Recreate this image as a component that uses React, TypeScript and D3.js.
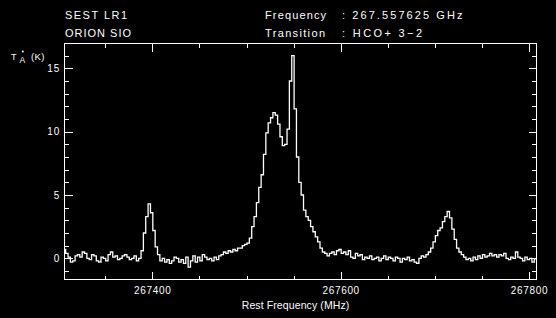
import React from "react";
import * as d3 from "d3";

// ---- Data ----
const CHANNEL_START = 267306.7; // MHz, first channel
const CHANNEL_WIDTH = 2.5; // MHz per channel
const intensity: number[] = [
  0.7, 0.4, 0.1, -0.3, -0.2, 0.2, 0.3, 0.1, 0.5, 0.4,
  0.0, -0.1, 0.3, 0.2, -0.2, -0.3, 0.1, 0.0, -0.2, 0.3,
  0.5, 0.1, 0.2, -0.1, 0.0, 0.2, 0.3, 0.1, -0.1, 0.0,
  0.2, -0.2, 0.0, 0.6, 2.0, 3.3, 4.3, 3.6, 2.2, 0.9,
  0.3, -0.2, 0.0, -0.3, -0.1, -0.4, -0.2, 0.1, 0.0, -0.3,
  -0.1, -0.4, 0.1, -0.7, -0.2, 0.2, -0.3, 0.1, -0.2, 0.3,
  0.1, -0.1, 0.0, -0.2, 0.1, -0.1, 0.2, 0.3, 0.5, 0.4,
  0.6, 0.5, 0.7, 0.6, 0.8, 0.8, 1.0, 1.1, 1.2, 1.6,
  2.5, 3.3, 4.4, 5.6, 6.6, 8.2, 9.9, 10.7, 11.1, 11.5,
  11.3, 10.6, 9.6, 8.9, 9.0, 10.2, 14.0, 16.0, 11.8, 8.0,
  6.0, 5.0, 3.8, 3.3, 3.0, 2.5, 2.1, 1.7, 1.3, 0.8,
  0.5, 0.4, 0.2, 0.4, 0.5, 0.3, 0.6, 0.7, 0.4, 0.5,
  0.3, 0.6, 0.1, 0.0, 0.4, 0.2, 0.3, -0.1, 0.1, 0.0,
  0.2, -0.1, 0.0, 0.1, -0.2, 0.0, 0.2, -0.1, 0.1, 0.0,
  -0.2, 0.1, 0.0, -0.3, 0.0, -0.1, 0.1, -0.2, -0.1, -0.3,
  -0.4, 0.0, 0.2, 0.1, 0.3, 0.5, 0.8, 1.3, 1.8, 2.2,
  2.4, 2.9, 3.3, 3.7, 3.2, 2.3, 1.5, 0.8, 0.5, 0.3,
  0.1, -0.1, 0.0, -0.2, 0.1, -0.1, 0.2, 0.0, 0.3, 0.1,
  0.2, 0.4, 0.2, 0.3, 0.1, 0.3, 0.2, 0.4, 0.0, -0.1,
  0.1, 0.0, 0.5, 0.1, 0.0, -0.2, 0.1, -0.1, 0.0, -0.3,
  -0.1,
];
const X_DOMAIN: [number, number] = [267306.7, 267807.8];
const Y_DOMAIN: [number, number] = [-1.67, 17.0];
const xMajorTicks = [267400, 267600, 267800];
const xMinorTicks = [267350, 267450, 267500, 267550, 267650, 267700, 267750];
const yMajorTicks = [0, 5, 10, 15];
const yMinorTicks = [-1, 1, 2, 3, 4, 6, 7, 8, 9, 11, 12, 13, 14, 16];
const headerLeft = ["SEST LR1", "ORION SIO"];
const headerKeys = ["Frequency", "Transition"];
const headerValues = [": 267.557625 GHz", ": HCO+ 3\u22122"];
const xTitle = "Rest Frequency (MHz)";

const W = 556;
const H = 318;
const L = 64.5, R = 536.5, T = 43.5, B = 279.5;
const FONT = "'Liberation Sans', Arial, sans-serif";
const headerLeftW = [62, 66];
const headerKeysW = [61, 60];
const headerValuesW = [120.5, 80];

export default function App() {
  const x = d3.scaleLinear().domain(X_DOMAIN).range([L, R]);
  const y = d3.scaleLinear().domain(Y_DOMAIN).range([B, T - 0.5]);

  const pts: [number, number][] = intensity.map((v, i) => [
    x(CHANNEL_START + i * CHANNEL_WIDTH),
    y(v),
  ]);
  const line = d3.line<[number, number]>().x((d) => d[0]).y((d) => d[1]).curve(d3.curveStep);
  const path = line(pts) || "";

  const px = (v: number) => Math.round(v) + 0.5;

  const ticks: React.ReactNode[] = [];
  xMajorTicks.forEach((t, i) => {
    const xx = px(x(t));
    ticks.push(<line key={"xb" + i} x1={xx} x2={xx} y1={B} y2={B - 8} />);
    ticks.push(<line key={"xt" + i} x1={xx} x2={xx} y1={T} y2={T + 8} />);
  });
  xMinorTicks.forEach((t, i) => {
    const xx = px(x(t));
    ticks.push(<line key={"xbm" + i} x1={xx} x2={xx} y1={B} y2={B - 4} />);
    ticks.push(<line key={"xtm" + i} x1={xx} x2={xx} y1={T} y2={T + 4} />);
  });
  yMajorTicks.forEach((t, i) => {
    const yy = px(y(t));
    ticks.push(<line key={"yl" + i} x1={L} x2={L + 8} y1={yy} y2={yy} />);
    ticks.push(<line key={"yr" + i} x1={R} x2={R - 8} y1={yy} y2={yy} />);
  });
  yMinorTicks.forEach((t, i) => {
    const yy = px(y(t));
    ticks.push(<line key={"ylm" + i} x1={L} x2={L + 4.5} y1={yy} y2={yy} />);
    ticks.push(<line key={"yrm" + i} x1={R} x2={R - 4.5} y1={yy} y2={yy} />);
  });

  return (
    <div style={{ position: "fixed", left: 0, top: 0, width: W, height: H, background: "#000" }}>
      <svg width={W} height={H} style={{ display: "block", background: "#000" }} fontFamily={FONT}>
        <rect x={0} y={0} width={W} height={H} fill="#000" />
        <defs>
          <clipPath id="plotclip">
            <rect x={L} y={T} width={R - L} height={B - T} />
          </clipPath>
        </defs>
        {/* header */}
        {headerLeft.map((s, i) => (
          <text key={"hl" + i} x={65} y={19.3 + i * 18} fill="#fff" fontSize={11}
            textLength={headerLeftW[i]} lengthAdjust="spacing">
            {s}
          </text>
        ))}
        {headerKeys.map((s, i) => (
          <text key={"hk" + i} x={265} y={19.3 + i * 18} fill="#fff" fontSize={11}
            textLength={headerKeysW[i]} lengthAdjust="spacing">
            {s}
          </text>
        ))}
        {headerValues.map((s, i) => (
          <text key={"hv" + i} x={342} y={19.3 + i * 18} fill="#fff" fontSize={11}
            textLength={headerValuesW[i]} lengthAdjust="spacing">
            {s}
          </text>
        ))}
        {/* spectrum */}
        <path d={path} fill="none" stroke="#fff" strokeWidth={1.3} clipPath="url(#plotclip)" />
        {/* frame & ticks */}
        <g stroke="#fff" strokeWidth={1} shapeRendering="crispEdges">
          <rect x={L} y={T} width={R - L} height={B - T} fill="none" />
          {ticks}
        </g>
        {/* y tick labels */}
        {yMajorTicks.map((t) => (
          <text key={"yt" + t} x={60} y={y(t) + 3.8} fill="#fff" fontSize={10} letterSpacing={0.8} textAnchor="end">
            {t}
          </text>
        ))}
        {/* x tick labels */}
        {xMajorTicks.map((t) => (
          <text key={"xtl" + t} x={x(t) - 18.3} y={293.5} fill="#fff" fontSize={10}
            textLength={36.7} lengthAdjust="spacing">
            {t}
          </text>
        ))}
        <text x={241.7} y={308.5} fill="#fff" fontSize={10.5} textLength={107.6} lengthAdjust="spacing">
          {xTitle}
        </text>
        {/* y axis label T*A (K) */}
        <text x={11} y={59.5} fill="#fff" fontSize={9}>T</text>
        <circle cx={22.8} cy={51.5} r={1} fill="#fff" />
        <text x={19.5} y={63} fill="#fff" fontSize={8.5}>A</text>
        <text x={31} y={60} fill="#fff" fontSize={9.5} letterSpacing={0.4}>(K)</text>
      </svg>
    </div>
  );
}
